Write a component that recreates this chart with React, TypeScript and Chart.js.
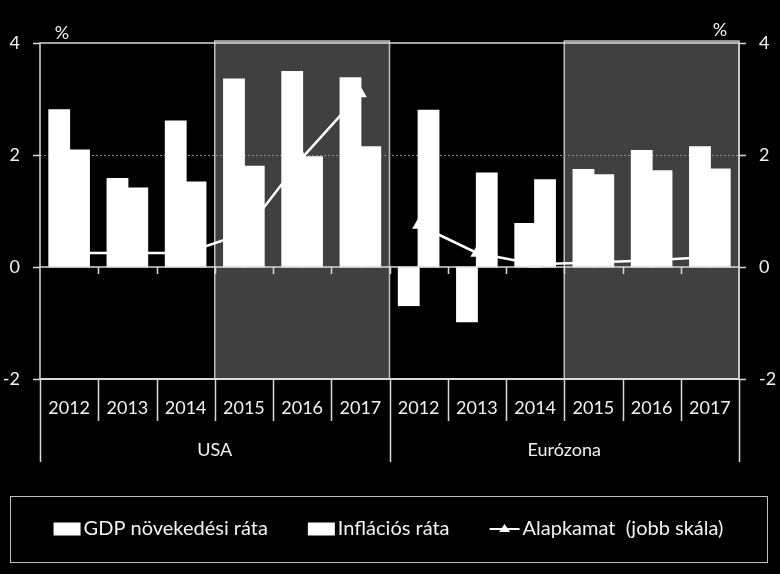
import React, { useEffect, useRef } from 'react';
import { Chart, registerables } from 'chart.js';

Chart.register(...registerables);

// ---- data ----
const years = ['2012', '2013', '2014', '2015', '2016', '2017', '2012', '2013', '2014', '2015', '2016', '2017'];
const groups = ['USA', 'Eurózona'];
const groupSize = 6;
const shadedFromIndex = 3; // 2015-2017 shaded in each group
const gdpGrowth = [2.8, 1.57, 2.6, 3.35, 3.48, 3.37, -0.68, -0.97, 0.77, 1.73, 2.07, 2.14];
const inflation = [2.08, 1.4, 1.51, 1.79, 1.96, 2.14, 2.79, 1.67, 1.55, 1.64, 1.71, 1.74];
const policyRate = [0.25, 0.25, 0.25, 0.6, 1.95, 3.1, 0.75, 0.25, 0.05, 0.08, 0.12, 0.18];
const seriesNames = ['GDP növekedési ráta', 'Inflációs ráta', 'Alapkamat  (jobb skála)'];
const axisMin = -2;
const axisMax = 4;
const axisStep = 2;
const unitLabel = '%';

const FONT = 'Lato, "Open Sans", sans-serif';
const TXT = '#f2f2f2';
const LINE = '#d9d9d9';

const decorPlugin = {
  id: 'decor',
  beforeDraw(chart: any) {
    const { ctx, chartArea: a, scales } = chart;
    const x = scales.x;
    ctx.save();
    for (let g = 0; g < groups.length; g++) {
      const x0 = x.getPixelForValue(g * groupSize + shadedFromIndex - 0.5);
      const x1 = x.getPixelForValue(g * groupSize + groupSize - 0.5);
      ctx.fillStyle = '#404040';
      ctx.fillRect(x0, a.top - 2, x1 - x0, a.bottom - a.top + 2);
      ctx.strokeStyle = '#bfbfbf';
      ctx.lineWidth = 1.5;
      ctx.strokeRect(x0, a.top - 2, x1 - x0, a.bottom - a.top + 2);
    }
    ctx.restore();
  },
  afterDatasetsDraw(chart: any) {
    const { ctx, chartArea: a, scales } = chart;
    const x = scales.x;
    const y = scales.y;
    const y0 = y.getPixelForValue(0);
    ctx.save();
    // zero line
    ctx.strokeStyle = LINE;
    ctx.lineWidth = 1.5;
    ctx.beginPath();
    ctx.moveTo(a.left, y0);
    ctx.lineTo(a.right, y0);
    ctx.stroke();
    // tick marks on zero axis
    for (let i = 1; i < years.length; i++) {
      const xb = Math.round(x.getPixelForValue(i - 0.5)) + 0.5;
      ctx.beginPath();
      ctx.moveTo(xb, y0);
      ctx.lineTo(xb, y0 + 7);
      ctx.stroke();
    }
    // frame
    ctx.strokeStyle = LINE;
    ctx.lineWidth = 1.5;
    ctx.strokeRect(a.left, a.top, a.right - a.left, a.bottom - a.top);
    ctx.lineWidth = 2;
    ctx.beginPath();
    ctx.moveTo(a.left, a.bottom);
    ctx.lineTo(a.right, a.bottom);
    ctx.stroke();
    // category separators
    ctx.lineWidth = 1.5;
    for (let i = 0; i <= years.length; i++) {
      const xb = Math.round(x.getPixelForValue(i - 0.5)) + 0.5;
      const long = i % groupSize === 0;
      ctx.beginPath();
      ctx.moveTo(xb, a.bottom);
      ctx.lineTo(xb, a.bottom + (long ? 83 : 42));
      ctx.stroke();
    }
    // group labels
    ctx.fillStyle = TXT;
    ctx.font = `18px ${FONT}`;
    ctx.textAlign = 'center';
    ctx.textBaseline = 'middle';
    for (let g = 0; g < groups.length; g++) {
      const xa = x.getPixelForValue(g * groupSize - 0.5);
      const xz = x.getPixelForValue(g * groupSize + groupSize - 0.5);
      ctx.fillText(groups[g], (xa + xz) / 2, a.bottom + 71);
    }
    // unit labels
    ctx.fillText(unitLabel, a.left + 22, a.top - 10);
    ctx.fillText(unitLabel, a.right - 19, a.top - 13);

    // legend
    const bx = 10;
    const by = 496;
    const bw = chart.width - 23;
    const bh = 66;
    ctx.strokeStyle = '#bfbfbf';
    ctx.lineWidth = 1;
    ctx.strokeRect(bx + 0.5, by + 0.5, bw, bh);
    const ly = 529;
    ctx.font = `20px ${FONT}`;
    ctx.textAlign = 'left';
    const w = seriesNames.map((s) => ctx.measureText(s).width);
    const sw = 27;
    const gap = 3;
    const itemGap = 40;
    const total = sw + gap + w[0] + itemGap + sw + gap + w[1] + itemGap + 30 + gap + w[2];
    let cx = bx + bw / 2 - total / 2;
    ctx.fillStyle = '#ffffff';
    ctx.fillRect(cx, ly - 6.5, sw, 13);
    cx += sw + gap;
    ctx.fillStyle = TXT;
    ctx.fillText(seriesNames[0], cx, ly);
    cx += w[0] + itemGap;
    ctx.fillStyle = '#ffffff';
    ctx.fillRect(cx, ly - 6.5, sw, 13);
    cx += sw + gap;
    ctx.fillStyle = TXT;
    ctx.fillText(seriesNames[1], cx, ly);
    cx += w[1] + itemGap;
    ctx.strokeStyle = '#ffffff';
    ctx.lineWidth = 2;
    ctx.beginPath();
    ctx.moveTo(cx, ly);
    ctx.lineTo(cx + 30, ly);
    ctx.stroke();
    ctx.fillStyle = '#ffffff';
    ctx.beginPath();
    ctx.moveTo(cx + 15, ly - 5);
    ctx.lineTo(cx + 20.5, ly + 3);
    ctx.lineTo(cx + 9.5, ly + 3);
    ctx.closePath();
    ctx.fill();
    cx += 30 + gap;
    ctx.fillStyle = TXT;
    ctx.fillText(seriesNames[2], cx, ly);
    ctx.restore();
  },
};

export default function App() {
  const ref = useRef<HTMLCanvasElement | null>(null);

  useEffect(() => {
    document.body.style.margin = '0';
    document.body.style.background = '#000';
    const canvas = ref.current;
    if (!canvas) return;
    const tickFont = { family: FONT, size: 18 };
    const chart = new Chart(canvas, {
      type: 'bar',
      data: {
        labels: years,
        datasets: [
          {
            type: 'bar',
            label: seriesNames[0],
            data: gdpGrowth,
            backgroundColor: '#ffffff',
            borderWidth: 0,
            inflateAmount: 1,
            yAxisID: 'y',
            categoryPercentage: 0.68,
            barPercentage: 1,
            order: 1,
          },
          {
            type: 'bar',
            label: seriesNames[1],
            data: inflation,
            backgroundColor: '#ffffff',
            borderWidth: 0,
            inflateAmount: 1,
            yAxisID: 'y',
            categoryPercentage: 0.68,
            barPercentage: 1,
            order: 1,
          },
          {
            type: 'line',
            label: seriesNames[2],
            data: policyRate,
            yAxisID: 'y1',
            borderColor: '#ffffff',
            borderWidth: 2.5,
            pointStyle: 'triangle',
            pointRadius: 7.5,
            pointBackgroundColor: '#ffffff',
            pointBorderColor: '#ffffff',
            pointBorderWidth: 0,
            tension: 0,
            order: 2,
            segment: {
              borderColor: (c: any) => (c.p0DataIndex === groupSize - 1 ? 'transparent' : '#ffffff'),
            },
          } as any,
        ],
      },
      options: {
        responsive: false,
        animation: false,
        devicePixelRatio: 1,
        layout: { padding: { top: 43, left: 0, right: 0, bottom: 0 } },
        plugins: { legend: { display: false }, tooltip: { enabled: false } },
        scales: {
          x: {
            type: 'category',
            offset: true,
            grid: { display: false, drawTicks: false },
            border: { display: false },
            ticks: { color: TXT, font: tickFont, padding: 18, maxRotation: 0, autoSkip: false },
            afterFit: (s: any) => {
              s.height = 195;
            },
          },
          y: {
            position: 'left',
            min: axisMin,
            max: axisMax,
            ticks: { stepSize: axisStep, color: TXT, font: tickFont, padding: 13 },
            grid: {
              color: (c: any) => (c.tick && c.tick.value === 2 ? '#8c8c8c' : 'transparent'),
              lineWidth: 1,
              tickColor: LINE,
              tickLength: 7,
              tickWidth: 1.5,
            },
            border: { display: false, dash: [2, 2] },
            afterFit: (s: any) => {
              s.width = 40;
            },
          },
          y1: {
            position: 'right',
            min: axisMin,
            max: axisMax,
            ticks: { stepSize: axisStep, color: TXT, font: tickFont, padding: 13 },
            grid: { drawOnChartArea: false, tickColor: LINE, tickLength: 7, tickWidth: 1.5 },
            border: { display: false },
            afterFit: (s: any) => {
              s.width = 41;
            },
          },
        },
      } as any,
      plugins: [decorPlugin],
    });
    let alive = true;
    if ((document as any).fonts && (document as any).fonts.load) {
      (document as any).fonts.load(`18px Lato`).then(() => {
        if (alive) chart.update();
      }).catch(() => {});
    }
    return () => {
      alive = false;
      chart.destroy();
    };
  }, []);

  return (
    <div style={{ width: 780, height: 574, background: '#000' }}>
      <canvas ref={ref} width={780} height={574} style={{ display: 'block' }} />
    </div>
  );
}
